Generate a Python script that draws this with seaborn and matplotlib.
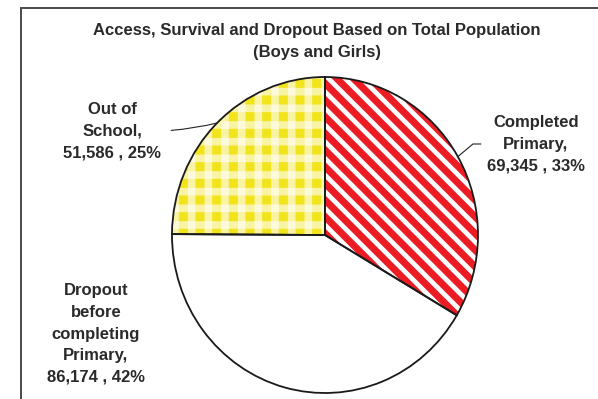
import matplotlib
matplotlib.use("Agg")
import numpy as np
import matplotlib.pyplot as plt
import seaborn as sns
from matplotlib.patches import Rectangle

# Data
categories = ["Completed\nPrimary", "Dropout\nbefore\ncompleting\nPrimary", "Out of\nSchool"]
counts = [69345, 86174, 51586]
title_lines = ["Access, Survival and Dropout Based on Total Population", "(Boys and Girls)"]

RED = "#EC1C24"
YELLOW = "#F1E41C"
TEXT = "#2a2a2a"

sns.set_theme(style="white")
plt.rcParams["font.family"] = ["Liberation Sans", "DejaVu Sans"]
plt.rcParams["font.weight"] = "bold"

total = sum(counts)
pcts = [round(100 * c / total) for c in counts]
labels = [f"{cat},\n{c:,} , {p}%" for cat, c, p in zip(categories, counts, pcts)]

fig = plt.figure(figsize=(5.98, 3.99), dpi=100)
fig.patch.set_facecolor("white")

# page frame around the chart
fig.add_artist(Rectangle((20.5 / 598, -0.1), 1.2, (399 - 8) / 399 + 0.1,
                         transform=fig.transFigure, fill=False,
                         edgecolor="#4a4a4a", lw=1.4))

ax = fig.add_axes([0.2876, 0.015, 0.5117, 0.792])

pie_kw = dict(startangle=90, counterclock=False)

# base fills
base, _ = ax.pie(counts, colors=[RED, "white", YELLOW],
                 wedgeprops=dict(linewidth=0, edgecolor="none"), **pie_kw)

# pattern overlays: diagonal stripes on the red slice, gingham on the yellow slice
def overlay(hatches, edgecolors, hlw):
    with plt.rc_context({"hatch.linewidth": hlw}):
        ws, _ = ax.pie(counts, colors=["none"] * 3, hatch=hatches,
                       wedgeprops=dict(linewidth=0), **pie_kw)
    for w, ec in zip(ws, edgecolors):
        w.set_edgecolor(ec)
        w.set_linewidth(0)
        if hasattr(w, "set_hatch_linewidth"):
            w.set_hatch_linewidth(hlw)
    return ws

overlay(["\\\\", None, None], ["white", "none", "none"], 3.4)
overlay([None, None, "-"], ["none", "none", (1, 1, 1, 0.6)], 5.5)
overlay([None, None, "|"], ["none", "none", (1, 1, 1, 0.6)], 5.5)

# outlines
outline, _ = ax.pie(counts, colors=["none"] * 3,
                    wedgeprops=dict(linewidth=1.3, edgecolor="#1a1a1a"), **pie_kw)

ax.set_aspect("auto")
ax.set_xlim(-1, 1)
ax.set_ylim(-1, 1)
ax.axis("off")

def rim_point(w):
    th = np.deg2rad((w.theta1 + w.theta2) / 2)
    return (w.r * np.cos(th), w.r * np.sin(th))

txt_kw = dict(fontsize=12, fontweight="bold", color=TEXT, ha="center",
              va="center", linespacing=1.55)

# Completed Primary
ax.annotate(labels[0], xy=rim_point(outline[0]), xycoords="data",
            xytext=(536 / 598, 1 - 144 / 399), textcoords="figure fraction",
            arrowprops=dict(arrowstyle="-", color="#222", lw=0.8, relpos=(0, 0.5),
                            shrinkA=2, shrinkB=0,
                            connectionstyle="angle,angleA=0,angleB=40,rad=0"),
            **txt_kw)

# Dropout before completing Primary
ax.annotate(labels[1], xy=(96 / 598, 1 - 334 / 399), xycoords="figure fraction",
            **txt_kw)

# Out of School
ax.annotate(labels[2], xy=rim_point(outline[2]), xycoords="data",
            xytext=(112 / 598, 1 - 131 / 399), textcoords="figure fraction",
            arrowprops=dict(arrowstyle="-", color="#222", lw=0.8, relpos=(1, 0.5),
                            shrinkA=5, shrinkB=0,
                            connectionstyle="arc3,rad=0.05"),
            **txt_kw)

fig.text(317 / 598, 1 - 30 / 399, title_lines[0], ha="center", va="center",
         fontsize=12, fontweight="bold", color=TEXT)
fig.text(317 / 598, 1 - 52 / 399, title_lines[1], ha="center", va="center",
         fontsize=12, fontweight="bold", color=TEXT)

fig.savefig("out.png", dpi=100, facecolor="white")
